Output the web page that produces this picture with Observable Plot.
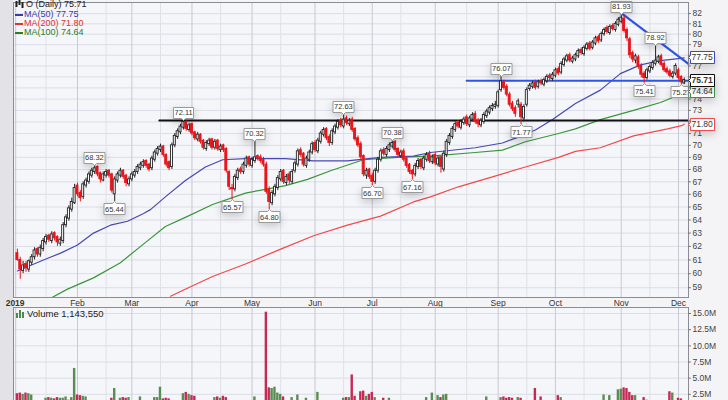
<!DOCTYPE html>
<html><head><meta charset="utf-8">
<script src="https://cdn.jsdelivr.net/npm/d3@7"></script>
<script src="https://cdn.jsdelivr.net/npm/@observablehq/plot@0.6"></script>
<style>
body{margin:0;background:#fff;}
#wrap{position:relative;width:728px;height:400px;overflow:hidden;background:#f4f4f6;font-family:"Liberation Sans",Arial,sans-serif;}
#leftstrip{position:absolute;left:0;top:0;width:13px;height:400px;background:#e3e3e7;}
#price{position:absolute;left:0;top:0;}
#vol{position:absolute;left:0;top:306px;}
.leg{position:absolute;font-size:9px;line-height:9px;white-space:nowrap;z-index:5;}
.dash{display:inline-block;width:8px;height:2px;vertical-align:middle;margin-right:1px;}
</style></head><body>
<div id="wrap">
  <div id="leftstrip"></div>
  <div id="price"></div>
  <div id="vol"></div>
  <div class="leg" id="l0" style="top:0px;left:15px;color:#222"></div>
  <div class="leg" id="l1" style="top:10px;left:15px;color:#3a3aa8"></div>
  <div class="leg" id="l2" style="top:19px;left:15px;color:#e03030"></div>
  <div class="leg" id="l3" style="top:28px;left:15px;color:#2d7d2d"></div>
  <div class="leg" id="lv" style="top:309px;left:16px;color:#222;font-size:9.5px"></div>
</div>
<script>
// ---- daily OHLC (trading-day index 0 = 2 Jan 2019), one line per month ----
const open = [
61.5,61.0,60.2,60.7,60.3,60.8,61.2,61.8,61.4,61.8,62.3,62.8,62.4,63.0,62.7,62.2,62.4,63.6,64.1,64.8,65.3,
66.7,66.1,65.8,66.7,67.0,67.5,67.8,68.2,67.7,67.1,67.5,67.9,67.6,66.0,67.1,67.5,67.9,67.5,66.8,
67.2,67.5,67.8,68.1,68.3,68.7,68.4,68.1,68.8,69.3,69.6,69.9,69.2,68.6,68.2,70.0,70.7,71.1,71.5,72.0,71.3,
71.8,71.1,70.5,70.9,70.4,69.7,70.1,70.5,69.8,70.4,69.6,70.0,69.7,67.8,66.5,66.4,67.3,68.0,67.8,68.3,69.0,
68.3,68.7,69.1,69.0,68.8,68.4,66.4,65.3,66.0,66.5,67.2,67.9,66.9,67.6,67.0,67.9,68.4,69.6,69.3,68.3,68.8,69.4,
70.2,69.5,70.3,70.9,71.4,70.7,70.2,71.1,71.5,72.1,71.6,72.3,71.8,72.2,71.4,70.6,70.1,69.1,67.5,68.0,
67.5,67.0,67.9,68.8,69.6,69.2,69.6,69.9,70.3,69.7,69.1,69.5,68.9,68.4,67.9,67.6,68.2,68.8,68.1,68.8,69.3,68.6,
69.2,68.4,69.0,68.0,69.2,70.2,70.7,71.3,71.9,71.5,71.9,72.4,71.7,72.2,72.7,72.1,71.7,72.0,72.5,72.8,73.1,73.3,
73.4,74.8,75.5,75.1,74.4,73.6,73.2,73.5,73.5,72.3,73.5,74.9,75.1,75.5,75.1,75.6,75.3,75.6,76.1,75.8,
76.1,76.7,76.4,77.1,77.5,78.0,77.4,77.6,77.9,78.5,78.1,78.6,79.1,78.7,79.1,79.7,79.4,80.0,80.6,80.1,80.8,80.4,80.9,
81.2,81.5,80.4,79.5,78.2,77.5,77.8,77.0,76.3,75.9,76.5,76.8,77.2,77.4,77.9,77.2,76.7,76.5,76.0,76.3,
76.6,76.0,75.4];
const high = [
61.8,61.2,60.9,60.9,61.0,61.4,61.9,61.9,62.1,62.6,62.9,62.9,63.1,63.1,62.8,62.7,63.8,64.4,65.1,65.7,66.8,
66.9,66.3,67.0,67.3,67.8,68.1,68.32,68.3,67.8,67.8,68.0,68.0,67.7,67.4,67.8,68.1,68.0,67.6,67.4,
67.8,68.0,68.4,68.6,68.8,68.8,68.5,69.1,69.6,69.9,70.1,70.0,69.3,68.7,70.2,71.0,71.4,71.8,72.11,72.1,71.9,
71.9,71.2,71.1,71.0,70.5,70.4,70.6,70.6,70.5,70.5,70.1,70.1,69.8,67.9,66.8,67.6,68.1,68.2,68.6,69.1,69.1,
69.0,70.32,69.2,69.2,69.0,68.6,66.6,66.3,66.8,67.5,68.0,68.0,67.6,67.8,68.0,68.7,69.7,69.8,69.4,69.1,69.6,70.3,
70.4,70.6,71.2,71.5,71.5,70.9,71.4,71.8,72.2,72.3,72.63,72.5,72.3,72.4,71.5,70.8,70.3,69.2,68.1,68.1,
67.7,68.1,69.0,69.7,69.8,69.9,70.2,70.38,70.4,69.8,69.6,69.7,69.0,68.5,68.0,68.5,68.9,68.9,69.1,69.4,69.5,69.2,
69.4,69.1,69.1,69.5,70.5,71.0,71.6,72.0,72.1,72.2,72.4,72.6,72.5,72.8,72.9,72.3,72.3,72.8,73.1,73.4,73.6,73.8,
74.8,76.07,75.7,75.3,74.6,73.8,73.4,74.0,73.7,73.5,75.0,75.4,75.6,75.7,75.7,75.8,75.9,76.2,76.3,76.4,
76.8,76.9,77.4,77.8,78.1,78.2,77.9,78.2,78.6,78.7,78.9,79.2,79.3,79.4,79.8,79.9,80.2,80.6,80.8,80.9,81.0,81.2,81.6,
81.93,81.7,80.6,79.7,78.4,78.1,78.0,77.2,76.5,76.8,77.1,77.5,78.92,78.0,78.1,77.4,76.9,76.7,76.5,77.2,
76.8,76.1,75.9];
const low = [
60.9,59.6,60.0,60.1,60.1,60.6,61.0,61.2,61.2,61.6,62.1,62.3,62.2,62.4,62.0,62.0,62.2,63.4,63.9,64.6,65.2,
65.8,65.4,65.6,66.5,66.8,67.3,67.6,67.4,66.9,67.0,67.3,67.3,66.1,65.44,66.9,67.3,67.2,66.6,66.6,
67.0,67.3,67.6,67.9,68.1,68.1,67.8,67.9,68.6,69.1,69.4,69.0,68.2,67.9,68.0,69.8,70.5,70.9,71.3,71.2,71.1,
70.8,70.4,70.3,70.1,69.6,69.5,69.9,69.6,69.6,69.5,69.4,69.4,67.7,66.3,65.57,66.2,67.1,67.6,67.6,68.1,68.2,
68.1,68.5,68.7,68.5,68.2,66.0,64.80,65.1,65.8,66.3,67.0,66.8,66.7,66.8,66.8,67.7,68.2,69.0,68.2,68.1,68.6,69.2,
69.4,69.3,70.1,70.7,70.4,69.9,70.0,70.9,71.3,71.5,71.4,71.7,71.6,71.1,70.3,69.8,68.8,67.4,67.2,67.2,
66.70,66.8,67.7,68.6,69.1,69.0,69.4,69.7,69.4,69.0,68.9,68.6,68.1,67.6,67.16,67.4,68.0,68.0,67.9,68.6,68.5,68.4,
68.3,68.2,67.7,67.8,69.0,70.0,70.5,71.1,71.4,71.3,71.7,71.6,71.5,72.0,71.8,71.5,71.5,71.8,72.3,72.6,72.9,73.1,
73.2,74.6,74.8,74.2,73.3,72.9,72.4,73.2,71.77,72.0,73.3,74.7,74.9,74.8,74.9,75.2,75.1,75.4,75.6,75.6,
75.9,76.1,76.2,76.9,77.3,77.3,77.2,77.4,77.7,78.0,77.9,78.4,78.4,78.5,78.9,79.1,79.2,79.8,80.0,79.9,80.3,80.2,80.7,
81.0,80.1,79.3,77.7,77.3,77.2,76.7,75.9,75.41,75.7,76.3,76.6,77.0,77.2,76.9,76.4,76.2,75.9,75.8,76.1,
75.7,75.27,75.3];
const close = [
61.0,60.3,60.6,60.4,60.9,61.2,61.7,61.4,61.9,62.4,62.7,62.5,62.9,62.6,62.3,62.5,63.6,64.2,64.9,65.4,66.5,
66.0,65.7,66.8,67.1,67.6,67.9,68.1,67.6,67.2,67.6,67.8,67.5,66.3,67.2,67.6,67.9,67.4,66.9,67.2,
67.6,67.8,68.2,68.4,68.6,68.3,68.0,68.9,69.4,69.7,69.9,69.2,68.4,68.1,70.0,70.8,71.2,71.6,72.0,71.4,71.7,
71.0,70.6,70.9,70.3,69.8,70.2,70.4,69.8,70.3,69.7,69.9,69.6,67.9,66.6,66.4,67.4,67.9,67.8,68.4,68.9,68.4,
68.8,69.0,68.9,68.7,68.4,66.2,65.4,66.1,66.6,67.3,67.8,67.0,67.4,67.1,67.8,68.5,69.5,69.2,68.4,68.9,69.4,70.1,
69.6,70.4,71.0,71.3,70.6,70.2,71.2,71.6,72.0,71.7,72.2,71.9,72.1,71.3,70.5,70.0,69.0,67.6,67.9,67.4,
67.0,67.9,68.8,69.5,69.3,69.7,70.0,70.2,69.6,69.2,69.4,68.8,68.3,67.8,67.6,68.3,68.7,68.2,68.9,69.2,68.7,69.0,
68.5,68.9,68.2,69.3,70.3,70.8,71.4,71.8,71.6,72.0,72.2,71.8,72.3,72.6,72.0,71.8,72.1,72.6,72.9,73.2,73.4,73.5,
74.6,75.6,75.0,74.4,73.5,73.1,72.7,73.8,72.4,73.3,74.8,75.2,75.4,75.0,75.5,75.4,75.7,76.0,75.9,76.2,
76.6,76.3,77.2,77.6,77.9,77.5,77.7,78.0,78.4,78.2,78.7,79.0,78.6,79.2,79.6,79.3,80.0,80.4,80.2,80.7,80.5,81.0,81.4,
81.6,80.3,79.6,78.0,77.6,77.9,76.9,76.2,75.9,76.6,76.9,77.3,77.5,77.8,77.1,76.6,76.4,76.1,76.3,77.0,
75.9,75.5,75.71];
// daily volume, millions of shares
const volume = [
2.6,2.7,2.5,2.7,2.6,2.4,1.3,1.4,1.2,1.5,1.9,2.0,1.9,1.8,2.0,1.9,1.9,2.1,1.6,2.0,6.5,
2.4,2.3,2.2,2.1,1.4,1.3,1.2,1.1,1.3,1.2,1.4,1.3,1.9,3.4,1.5,1.9,2.0,1.9,2.0,
1.4,1.2,1.3,2.1,1.2,1.1,1.4,1.3,2.0,2.0,3.6,1.8,1.9,1.8,1.2,1.3,1.4,1.3,2.6,2.8,2.5,
2.3,2.2,1.3,1.2,1.1,1.3,1.2,1.1,2.0,2.1,1.9,2.2,2.0,1.4,1.3,1.2,1.1,1.2,1.3,1.2,1.4,
1.3,2.1,1.4,1.3,1.4,15.2,3.5,3.4,3.6,2.7,2.5,2.1,1.4,1.3,2.0,1.5,2.4,1.4,1.3,1.9,1.3,1.2,
1.2,2.8,1.3,1.2,1.1,1.3,1.2,1.4,1.3,1.2,1.9,2.0,2.0,5.5,2.2,1.5,2.9,3.0,2.2,2.5,
2.8,2.0,1.4,1.3,1.9,1.3,1.9,1.4,1.2,1.3,1.2,1.1,1.3,1.2,1.4,1.3,1.2,1.3,1.1,2.0,1.4,2.7,
1.5,2.3,2.0,2.4,2.5,1.4,1.3,1.2,1.1,1.3,1.2,1.1,1.2,1.3,1.4,1.3,1.2,1.1,2.1,1.3,1.2,1.4,
1.5,2.0,2.1,1.9,2.0,1.9,1.4,2.0,1.9,1.5,1.3,1.2,1.3,3.4,1.4,2.1,1.3,1.2,1.1,1.3,
1.4,2.3,2.0,1.2,1.1,1.3,1.2,1.1,1.2,1.3,1.2,1.1,1.2,1.3,1.4,1.2,1.3,2.4,1.5,2.3,1.3,1.4,3.2,
3.3,3.5,3.4,2.8,2.3,2.3,1.5,1.4,2.0,1.6,1.4,1.3,1.5,1.4,1.3,1.4,1.3,2.9,2.7,1.2,
1.9,1.8,1.14355];

// moving averages: [trading-day index] / [value]
const ma50Idx = [0, 9.1, 15.1, 21, 26.6, 32.5, 38.5, 44.1, 46.5, 51.7, 58.7, 65.7, 71.7, 79.7, 93.7, 103.5, 115.3, 126.9, 138.4, 144.3, 160, 169.5, 175.1, 181, 187, 195, 203.7, 210.7, 217.7, 224.7, 231.7, 233];
const ma50Val = [60.2, 61.0, 61.5, 62.1, 63.0, 63.6, 63.9, 64.5, 64.8, 65.8, 67.1, 68.2, 68.8, 68.9, 68.9, 68.7, 68.7, 69.0, 69.1, 69.4, 69.8, 70.2, 70.7, 71.3, 72.2, 73.6, 74.8, 76.3, 77.1, 77.5, 77.7, 77.75];
const ma100Idx = [12, 17.5, 26.6, 36, 44.8, 51.7, 58.7, 68.2, 79.7, 86.7, 93.7, 101.4, 109.4, 120.9, 132.8, 144.3, 160, 169.5, 177.5, 189.1, 195, 203.7, 215.3, 224.7, 232.4, 233];
const ma100Val = [58.3, 58.9, 59.7, 60.8, 62.3, 63.5, 64.2, 65.2, 66.1, 66.4, 66.7, 67.2, 67.9, 68.8, 69.0, 69.1, 69.4, 69.6, 70.3, 71.0, 71.4, 72.2, 73.0, 73.7, 74.5, 74.64];
const ma200Idx = [53.5, 57.7, 68.2, 79.7, 92, 103.5, 115.3, 126.9, 138.4, 144.3, 154.1, 166, 177.5, 189.1, 195, 203.7, 215.3, 227.2, 232.4, 233];
const ma200Val = [58.4, 58.8, 59.8, 60.7, 61.8, 62.8, 63.6, 64.3, 65.4, 65.8, 66.6, 67.4, 68.2, 69.0, 69.5, 69.8, 70.8, 71.4, 71.7, 71.80];

// drawn trend lines
const resistIdx = [49.6, 234.5], resistVal = [72.11, 72.11];
const supportIdx = [157, 234.5], supportVal = [75.65, 75.65];
const downIdx = [210.1, 234.5], downVal = [82.25, 77.2];

// annotated highs / lows
const peakIdx = [27, 58, 83, 114, 131, 169, 211, 223];
const peakVal = [68.32, 72.11, 70.32, 72.63, 70.38, 76.07, 81.93, 78.92];
const troughIdx = [34, 75, 88, 124, 138, 176, 219, 232];
const troughVal = [65.44, 65.57, 64.80, 66.70, 67.16, 71.77, 75.41, 75.27];

// axes
const monthIdx = [-0.8, 21, 40, 61, 82, 104, 124, 146, 168, 188, 211, 231];
const monthLabels = ["2019","Feb","Mar","Apr","May","Jun","Jul","Aug","Sep","Oct","Nov","Dec"];
const monthGrid = [-0.6, 21, 40, 61, 82, 104, 124, 146, 168, 188, 211, 231];
const midGrid = [10, 31, 50, 71, 92, 114, 134, 157, 178, 198, 221];
const priceTicks = d3.range(59, 83);
const volTicks = [2.5, 5, 7.5, 10, 12.5, 15];

// ---- build ----
const N = close.length;
const candles = d3.range(N).map(i => ({i, o: open[i], h: high[i], l: low[i], c: close[i], v: volume[i]}));
const pts = (xs, ys) => xs.map((x, k) => ({x, y: ys[k]}));
const RED = "#e8161b", UPS = "#222";
const xDomain = [-1.36, 234.5];
const xEdge = xDomain[1];
const font = "'Liberation Sans', Arial, sans-serif";
const lastClose = close[N - 1];
const tipOpts = {pointerSize: 4, textPadding: 1, fontSize: 7.5, stroke: "#9a9a9a", fill: "#fff"};
const sideTip = (val, color, bold) => Plot.tip([{x: xEdge, y: val}], {x: "x", y: "y", title: d => d.y.toFixed(2), anchor: "left",
  pointerSize: 4, textPadding: 1, fontSize: 8.5, fontWeight: bold ? "bold" : "normal", stroke: color, fill: "#fff"});

const price = Plot.plot({
  width: 728, height: 308,
  marginLeft: 13, marginRight: 40, marginTop: 2, marginBottom: 11,
  x: {domain: xDomain, axis: null},
  y: {type: "log", domain: [58.31, 83.1], axis: null},
  style: {background: "transparent", fontFamily: font, fontSize: "8.5px", color: "#333", overflow: "visible"},
  marks: [
    Plot.frame({fill: "#f5f6fa"}),
    Plot.gridY(priceTicks, {stroke: "#dcdde6", strokeOpacity: 1}),
    Plot.gridX(midGrid, {stroke: "#e0e1e8", strokeOpacity: 1}),
    Plot.gridX(monthGrid, {stroke: "#c8c9d2", strokeOpacity: 1}),
    Plot.line(pts(ma200Idx, ma200Val), {x: "x", y: "y", stroke: "#f04a4a", strokeWidth: 1.2, clip: true}),
    Plot.line(pts(ma100Idx, ma100Val), {x: "x", y: "y", stroke: "#3b963b", strokeWidth: 1.2, clip: true}),
    Plot.line(pts(ma50Idx, ma50Val), {x: "x", y: "y", stroke: "#4848b0", strokeWidth: 1.2, clip: true}),
    Plot.line(pts(resistIdx, resistVal), {x: "x", y: "y", stroke: "#111", strokeWidth: 2}),
    Plot.line(pts(supportIdx, supportVal), {x: "x", y: "y", stroke: "#2f55e6", strokeWidth: 2}),
    Plot.line(pts(downIdx, downVal), {x: "x", y: "y", stroke: "#2f55e6", strokeWidth: 2.2}),
    Plot.ruleX(candles, {x: "i", y1: "l", y2: "h", stroke: d => d.c >= d.o ? UPS : RED, strokeWidth: 1}),
    Plot.rect(candles, {x1: d => d.i - 0.35, x2: d => d.i + 0.35, y1: "o", y2: "c",
      fill: d => d.i === N - 1 ? "#e6d84a" : (d.c >= d.o ? "#fff" : RED),
      stroke: d => d.c >= d.o ? UPS : RED, strokeWidth: 0.9}),
    Plot.tip(pts(peakIdx, peakVal), {x: "x", y: "y", title: d => d.y.toFixed(2), anchor: "bottom", ...tipOpts}),
    Plot.tip(pts(troughIdx, troughVal), {x: "x", y: "y", title: d => d.y.toFixed(2), anchor: "top", ...tipOpts}),
    Plot.frame({stroke: "#8c8c94"}),
    // right price axis: short ticks + labels
    Plot.ruleY(priceTicks, {y: d => d, x1: xEdge, x2: xEdge + 1, stroke: "#777"}),
    Plot.text(priceTicks, {y: d => d, x: xEdge, text: d => String(d), dx: 4, textAnchor: "start", fill: "#444", fontSize: 8.5}),
    Plot.axisX(monthIdx, {anchor: "bottom", tickSize: 0, tickPadding: 2, tickFormat: (d, k) => monthLabels[k], fill: "#333"}),
    sideTip(ma200Val[ma200Val.length - 1], "#f04a4a", false),
    sideTip(ma100Val[ma100Val.length - 1], "#3b963b", false),
    sideTip(ma50Val[ma50Val.length - 1], "#4848b0", false),
    sideTip(lastClose, "#111", true)
  ]
});
document.getElementById("price").appendChild(price);
d3.select(price).selectAll("g[aria-label='x-axis tick label'] text").filter((d, k) => k === 0).attr("font-weight", "bold");

const vol = Plot.plot({
  width: 728, height: 94,
  marginLeft: 13, marginRight: 40, marginTop: 1, marginBottom: 0,
  x: {domain: xDomain, axis: null},
  y: {domain: [0, 15], range: [104, 7], axis: null},
  style: {background: "transparent", fontFamily: font, fontSize: "8.5px", color: "#333", overflow: "visible"},
  marks: [
    Plot.frame({fill: "#f5f6fa"}),
    Plot.gridY(volTicks, {stroke: "#dcdde6", strokeOpacity: 1}),
    Plot.gridX(midGrid, {stroke: "#e0e1e8", strokeOpacity: 1}),
    Plot.gridX(monthGrid, {stroke: "#c8c9d2", strokeOpacity: 1}),
    Plot.rect(candles, {x1: d => d.i - 0.42, x2: d => d.i + 0.42, y1: 0, y2: "v",
      fill: d => d.c >= d.o ? "#5b8d52" : "#c42a55", clip: true}),
    Plot.frame({stroke: "#8c8c94"}),
    Plot.ruleY(volTicks, {y: d => d, x1: xEdge, x2: xEdge + 1, stroke: "#777"}),
    Plot.text(volTicks, {y: d => d, x: xEdge, text: d => d.toFixed(1) + "M", dx: 4, textAnchor: "start", fill: "#444", fontSize: 8.5})
  ]
});
document.getElementById("vol").appendChild(vol);

// legends
const fmt2 = d => d.toFixed(2);
document.getElementById("l0").innerHTML =
  '<svg width="9" height="8" style="vertical-align:-1px;margin-right:2px"><rect x="0.5" y="1" width="2" height="6" fill="#222"/><rect x="3.5" y="0" width="2" height="5" fill="#222"/><rect x="6.5" y="2" width="2" height="6" fill="#222"/></svg>' +
  "O (Daily) " + fmt2(lastClose);
document.getElementById("l1").innerHTML = '<span class="dash" style="background:#3a3aa8"></span>MA(50) ' + fmt2(ma50Val[ma50Val.length - 1]);
document.getElementById("l2").innerHTML = '<span class="dash" style="background:#e03030"></span>MA(200) ' + fmt2(ma200Val[ma200Val.length - 1]);
document.getElementById("l3").innerHTML = '<span class="dash" style="background:#2d7d2d"></span>MA(100) ' + fmt2(ma100Val[ma100Val.length - 1]);
document.getElementById("lv").innerHTML =
  '<svg width="9" height="9" style="vertical-align:-1px;margin-right:2px"><rect x="0" y="4" width="2" height="5" fill="#4f8a48"/><rect x="3" y="1" width="2" height="8" fill="#4f8a48"/><rect x="6" y="3" width="2" height="6" fill="#4f8a48"/></svg>' +
  "Volume " + d3.format(",")(Math.round(volume[N - 1] * 1e6));
</script>
</body></html>
